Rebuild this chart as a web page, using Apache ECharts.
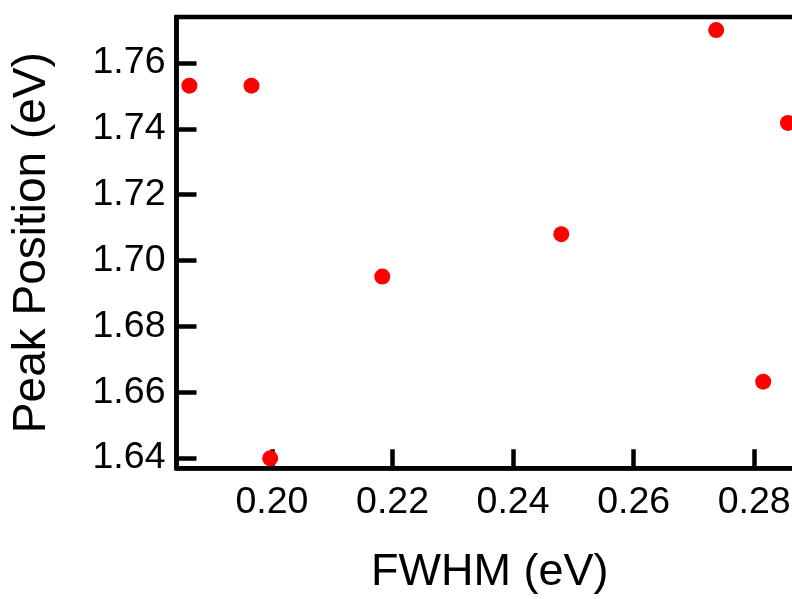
<!DOCTYPE html>
<html>
<head>
<meta charset="utf-8">
<script src="https://cdn.jsdelivr.net/npm/echarts@6/dist/echarts.min.js"></script>
<style>
html,body{margin:0;padding:0;background:#fff;}
#chart{width:792px;height:599px;}
</style>
</head>
<body>
<div id="chart"></div>
<script>
// Data
const fwhm = [0.1863, 0.1966, 0.1997, 0.2183, 0.2480, 0.2737, 0.2815, 0.2856];
const peakPosition = [1.7531, 1.7531, 1.6399, 1.6951, 1.7080, 1.7700, 1.6632, 1.7418];
const xTitle = 'FWHM (eV)';
const yTitle = 'Peak Position (eV)';
const xRange = [0.18416, 0.2881];
const yRange = [1.63687, 1.77397];
const tickStepX = 0.02;
const tickStepY = 0.02;

const points = fwhm.map((x, i) => [x, peakPosition[i]]);
const font = '"Liberation Sans", Arial, Helvetica, sans-serif';

const chart = echarts.init(document.getElementById('chart'), null, {renderer: 'canvas'});
chart.setOption({
  animation: false,
  backgroundColor: '#ffffff',
  grid: {
    left: 176.5, top: 17, right: -11, bottom: 130.7,
    show: true, borderColor: '#000', borderWidth: 4.5, backgroundColor: 'transparent',
    containLabel: false, outerBoundsMode: 'none'
  },
  xAxis: {
    type: 'value',
    min: xRange[0], max: xRange[1],
    minInterval: tickStepX, maxInterval: tickStepX,
    name: xTitle, nameLocation: 'middle', nameGap: 82,
    nameTextStyle: {fontFamily: font, fontSize: 45, color: '#000'},
    axisLine: {show: true, onZero: false, lineStyle: {color: '#000', width: 4.5}},
    axisTick: {show: true, inside: true, length: 19, lineStyle: {color: '#000', width: 4.5}},
    axisLabel: {show: true, margin: 15, fontFamily: font, fontSize: 37.5, color: '#000',
      showMinLabel: false, showMaxLabel: false,
      formatter: v => v.toFixed(2)},
    splitLine: {show: false}
  },
  yAxis: {
    type: 'value',
    min: yRange[0], max: yRange[1],
    minInterval: tickStepY, maxInterval: tickStepY,
    name: yTitle, nameLocation: 'middle', nameGap: 121, nameRotate: 90,
    nameTextStyle: {fontFamily: font, fontSize: 46, color: '#000'},
    axisLine: {show: true, onZero: false, lineStyle: {color: '#000', width: 4.5}},
    axisTick: {show: true, inside: true, length: 20, lineStyle: {color: '#000', width: 4.5}},
    axisLabel: {show: true, margin: 11, fontFamily: font, fontSize: 37.5, color: '#000',
      showMinLabel: false, showMaxLabel: false,
      formatter: v => v.toFixed(2)},
    splitLine: {show: false}
  },
  series: [{
    type: 'scatter',
    data: points,
    symbol: 'circle',
    symbolSize: 16,
    clip: false,
    itemStyle: {color: '#ff0000', opacity: 1}
  }]
});
</script>
</body>
</html>
